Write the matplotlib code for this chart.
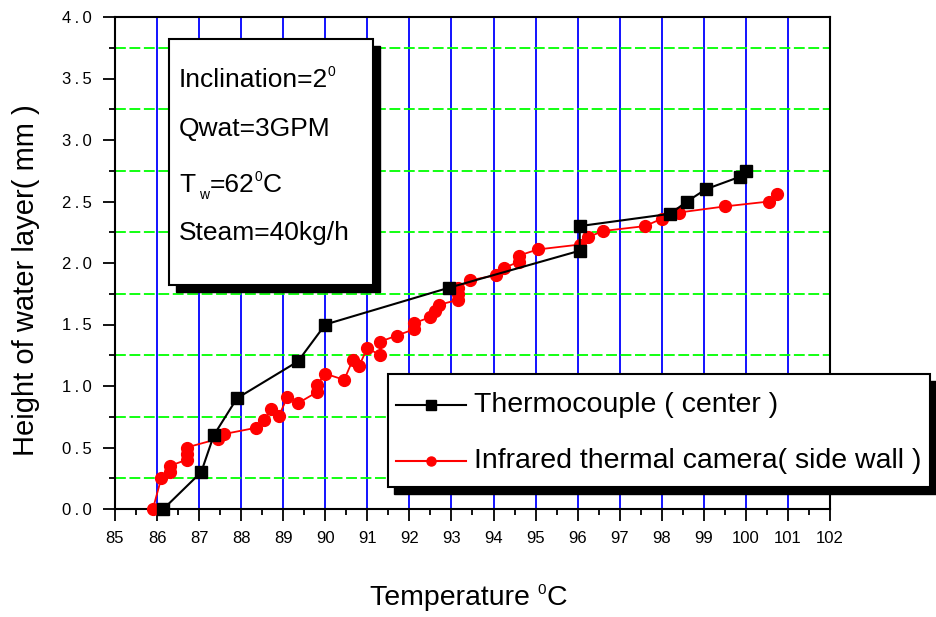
import matplotlib
matplotlib.use("Agg")
import matplotlib.pyplot as plt
from matplotlib.patches import Rectangle
from matplotlib.lines import Line2D
from matplotlib.text import Annotation
from matplotlib.ticker import MultipleLocator

plt.rcParams['font.family'] = ['Liberation Sans', 'DejaVu Sans']

# --- data ---
tc_temp = [86.15, 87.05, 87.35, 87.9, 89.35, 90.0, 92.95, 96.05, 96.05,
           98.2, 98.6, 99.05, 99.85, 100.0]
tc_height = [0.0, 0.3, 0.6, 0.9, 1.2, 1.5, 1.8, 2.1, 2.3,
             2.4, 2.5, 2.6, 2.7, 2.75]

ir_temp = [85.9, 86.1, 86.3, 86.3, 86.7, 86.7, 86.7, 87.45, 87.6, 88.35,
           88.55, 88.7, 88.9, 89.1, 89.35, 89.8, 89.8, 90.0, 90.45, 90.65,
           90.8, 91.0, 91.3, 91.3, 91.7, 92.1, 92.1, 92.5, 92.6, 92.7,
           93.15, 93.15, 93.15, 93.45, 94.05, 94.25, 94.6, 94.6, 95.05, 96.05,
           96.25, 96.6, 97.6, 98.0, 98.4, 99.5, 100.55, 100.75]
ir_height = [0.0, 0.25, 0.30, 0.35, 0.40, 0.45, 0.50, 0.57, 0.61, 0.66,
             0.72, 0.81, 0.76, 0.91, 0.86, 0.95, 1.01, 1.10, 1.05, 1.21,
             1.16, 1.31, 1.25, 1.36, 1.41, 1.46, 1.51, 1.56, 1.61, 1.66,
             1.70, 1.75, 1.80, 1.86, 1.90, 1.96, 2.01, 2.06, 2.11, 2.15,
             2.21, 2.26, 2.30, 2.36, 2.41, 2.46, 2.50, 2.56]

x_ticks = list(range(85, 103))
y_ticks = [0.0, 0.5, 1.0, 1.5, 2.0, 2.5, 3.0, 3.5, 4.0]

tc_label = 'Thermocouple ( center )'
ir_label = 'Infrared thermal camera( side wall )'
ylabel = 'Height of water layer( mm )'
# (text, kind) pieces so the super/subscripts can be sized like the original
xlabel_parts = [('Temperature ', 'n'), ('0', 'sup'), ('C', 'n')]
info_parts = [
    [('Inclination=2', 'n'), ('0', 'sup')],
    [('Qwat=3GPM', 'n')],
    [('T', 'n'), ('w', 'sub'), ('=62', 'n'), ('0', 'sup'), ('C', 'n')],
    [('Steam=40kg/h', 'n')],
]

W, H = 936, 617


def fx(px):
    return px / W


def fy(py):
    return 1 - py / H


def chain_text(fig, x, y, parts, size, small, zorder=7):
    """Write text pieces one after another; 'sup'/'sub' pieces are smaller."""
    base = fig.text(x, y, parts[0][0], fontsize=size, va='baseline',
                    ha='left', zorder=zorder)
    prev = base
    for txt, kind in parts[1:]:
        if kind == 'sup':
            ann = Annotation(txt, xy=(1, 0.55), xycoords=(prev, base),
                             xytext=(-0.5, 0), textcoords='offset points',
                             fontsize=small, va='bottom', ha='left')
        elif kind == 'sub':
            ann = Annotation(txt, xy=(1, 0), xycoords=(prev, base),
                             xytext=(3, -3.5), textcoords='offset points',
                             fontsize=small, va='bottom', ha='left')
        else:
            ann = Annotation(txt, xy=(1, 0), xycoords=(prev, base),
                             xytext=(0.5, 0), textcoords='offset points',
                             fontsize=size, va='bottom', ha='left')
        ann.set_zorder(zorder)
        fig.add_artist(ann)
        prev = ann
    return base


fig = plt.figure(figsize=(W / 100, H / 100), dpi=100)
ax = fig.add_axes([fx(115), fy(509), fx(830) - fx(115), fy(17) - fy(509)])

ax.set_xlim(85, 102)
ax.set_ylim(0, 4.0)
ax.set_xticks(x_ticks)
ax.set_yticks(y_ticks)
ax.set_yticklabels([f'{v:.1f}'.replace('.', '\u2009.\u2009') for v in y_ticks])
ax.xaxis.set_minor_locator(MultipleLocator(0.5))
ax.yaxis.set_minor_locator(MultipleLocator(0.25))

# grid: blue at every integer temperature, green dashed at the quarter heights
ax.grid(True, which='major', axis='x', color='#0000ff', lw=1.3)
ax.grid(True, which='minor', axis='y', color='#00ff00', lw=1.3, ls=(0, (6, 2)))
ax.set_axisbelow(True)

ax.tick_params(which='both', direction='out', top=False, right=False,
               labelsize=12, width=1.3, colors='black')
ax.tick_params(which='major', length=8.5)
ax.tick_params(which='minor', length=4.3)
ax.tick_params(axis='x', which='major', pad=7)
ax.tick_params(axis='y', which='major', pad=8)
for s in ax.spines.values():
    s.set_linewidth(1.5)

ax.plot(ir_temp, ir_height, color='red', lw=1.3, marker='o', ms=8.5,
        mec='red', mfc='red', clip_on=False, zorder=3)
ax.plot(tc_temp, tc_height, color='black', lw=1.5, marker='s', ms=8.5,
        mec='black', mfc='black', clip_on=False, zorder=4)

ax.set_ylabel(ylabel, fontsize=21)
ax.yaxis.set_label_coords(-0.105, 0.465)
chain_text(fig, fx(370), fy(605), xlabel_parts, 20.5, 11)

# info box with drop shadow
fig.add_artist(Rectangle((fx(176), fy(292)), fx(204), fy(0) - fy(246),
                         transform=fig.transFigure, fc='black', ec='black', zorder=5))
fig.add_artist(Rectangle((fx(169), fy(285)), fx(204), fy(0) - fy(246),
                         transform=fig.transFigure, fc='white', ec='black', lw=1.5, zorder=6))
for parts, base in zip(info_parts, [87, 136, 192, 240]):
    chain_text(fig, fx(179), fy(base), parts, 19, 10)

# legend box with drop shadow
fig.add_artist(Rectangle((fx(394), fy(494)), fx(542), fy(0) - fy(113),
                         transform=fig.transFigure, fc='black', ec='black', zorder=5))
fig.add_artist(Rectangle((fx(388), fy(487)), fx(542), fy(0) - fy(113),
                         transform=fig.transFigure, fc='white', ec='black', lw=1.5, zorder=6))
for label, color, marker, row in [(tc_label, 'black', 's', 405),
                                  (ir_label, 'red', 'o', 461)]:
    fig.add_artist(Line2D([fx(396), fx(431), fx(466)], [fy(row)] * 3,
                          transform=fig.transFigure, color=color, lw=1.5,
                          marker=marker, ms=6.5, markevery=[1], zorder=7))
    fig.text(fx(474), fy(row), label, fontsize=20.5, va='center', ha='left', zorder=7)

fig.savefig('out.png', dpi=100)
